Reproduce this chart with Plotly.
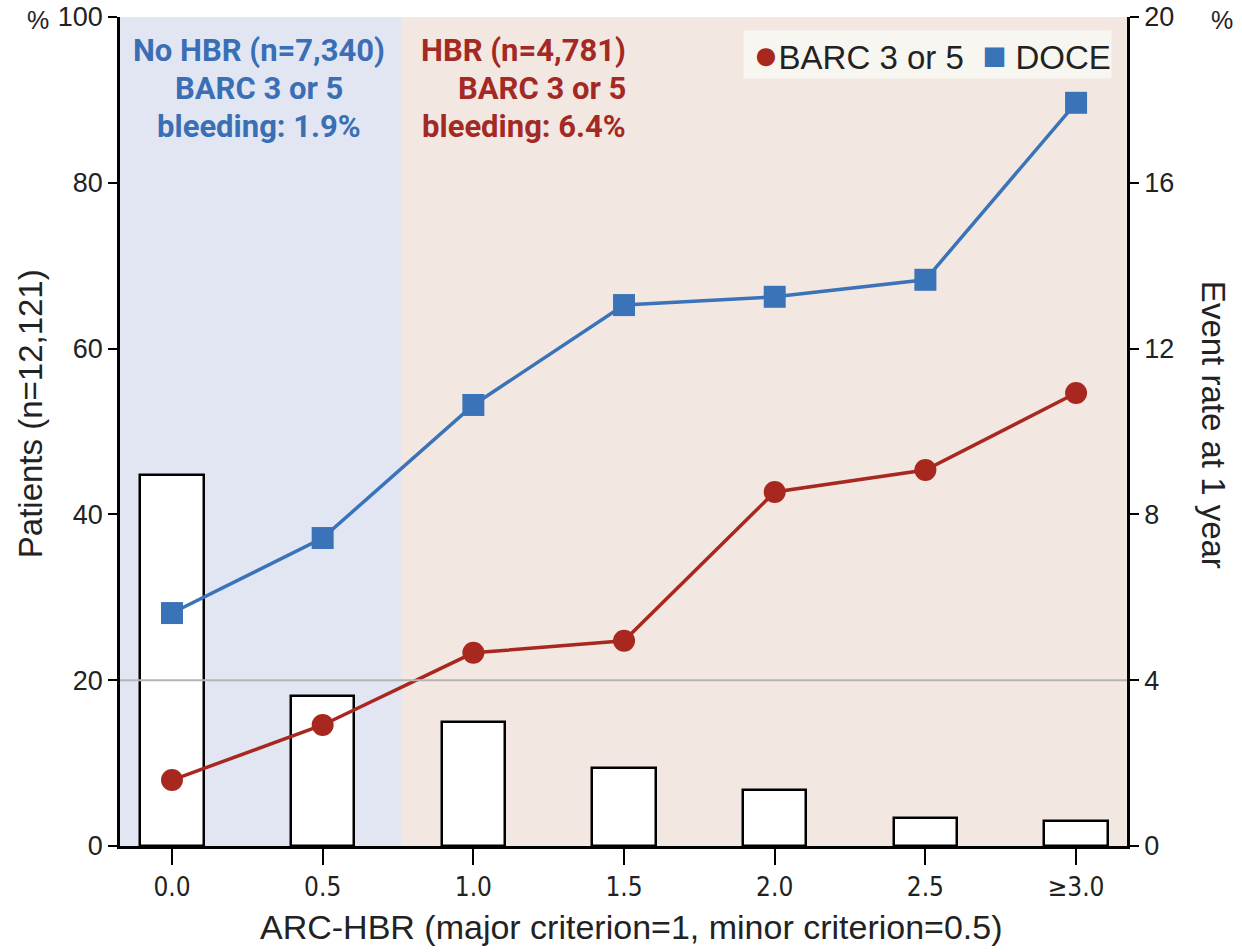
import plotly.graph_objects as go

# ---- data ----
categories = ["0.0", "0.5", "1.0", "1.5", "2.0", "2.5", "\u22653.0"]
patients_pct = [44.75, 18.1, 15.0, 9.4, 6.75, 3.4, 3.0]
barc_rate = [1.59, 2.92, 4.66, 4.95, 8.54, 9.07, 10.93]
doce_rate = [5.62, 7.43, 10.64, 13.05, 13.25, 13.66, 17.93]
left_ticks = [0, 20, 40, 60, 80, 100]
right_ticks = [0, 4, 8, 12, 16, 20]
no_hbr_lines = ["No HBR (n=7,340)", "BARC 3 or 5", "bleeding: 1.9%"]
hbr_lines = ["HBR (n=4,781)", "BARC 3 or 5", "bleeding: 6.4%"]
series_names = ["BARC 3 or 5", "DOCE"]

xpos = list(range(len(categories)))

BLUE = "#3B73B9"
RED = "#A8281F"
BLUE_TXT = "#3A6FB5"
RED_TXT = "#A32A24"
SANS = "Liberation Sans, Arial, sans-serif"
NARROW = "Liberation Sans Narrow, Arial Narrow, DejaVu Sans Condensed, sans-serif"
BOLDF = "Roboto, Lato, sans-serif"

fig = go.Figure()

fig.add_trace(go.Bar(
    x=xpos, y=patients_pct, width=0.42,
    marker=dict(color="white", line=dict(color="black", width=2.5)),
    showlegend=False, yaxis="y",
))

fig.add_trace(go.Scatter(
    x=xpos, y=doce_rate, mode="lines+markers", yaxis="y2", name=series_names[1],
    line=dict(color=BLUE, width=3.5),
    marker=dict(symbol="square", size=22, color=BLUE),
    showlegend=False,
))
fig.add_trace(go.Scatter(
    x=xpos, y=barc_rate, mode="lines+markers", yaxis="y2", name=series_names[0],
    line=dict(color=RED, width=3.5),
    marker=dict(symbol="circle", size=22, color=RED),
    showlegend=False,
))

XMIN, XMAX = -0.345, 6.338
SPLIT = 1.52

shapes = [
    dict(type="rect", xref="x", yref="paper", x0=XMIN, x1=SPLIT, y0=0, y1=1,
         fillcolor="#E2E6F3", line=dict(width=0), layer="below"),
    dict(type="rect", xref="x", yref="paper", x0=SPLIT, x1=XMAX, y0=0, y1=1,
         fillcolor="#F3E7E2", line=dict(width=0), layer="below"),
    dict(type="line", xref="paper", yref="y", x0=0, x1=1, y0=20, y1=20,
         line=dict(color="#B4B4B4", width=2), layer="above"),
]

annotations = []
line_y = [0.960, 0.914, 0.8685]
for txt, yy in zip(no_hbr_lines, line_y):
    annotations.append(dict(text=txt, xref="paper", yref="paper", x=0.138, y=yy,
                            xanchor="center", yanchor="middle", showarrow=False,
                            font=dict(family=BOLDF, size=31, color=BLUE_TXT, weight="bold")))
for txt, yy in zip(hbr_lines, line_y):
    annotations.append(dict(text=txt, xref="paper", yref="paper", x=0.5045, y=yy,
                            xanchor="right", yanchor="middle", showarrow=False,
                            font=dict(family=BOLDF, size=31, color=RED_TXT, weight="bold")))
# legend (as a boxed annotation)
legend_txt = ('\u00a0<span style="color:%s;font-size:42px">\u25CF</span>%s  '
              '<span style="color:%s;font-size:40px">\u25A0</span> %s'
              % (RED, series_names[0], BLUE, series_names[1]))
annotations.append(dict(text=legend_txt, xref="paper", yref="paper", x=0.9855, y=0.984,
                        xanchor="right", yanchor="top", showarrow=False,
                        bgcolor="#F8F6F0", borderpad=0,
                        font=dict(family=SANS, size=33, color="#222")))
annotations.append(dict(text="%", xref="paper", yref="paper", x=-0.0814, y=0.996,
                        xanchor="center", yanchor="middle", showarrow=False,
                        font=dict(family=SANS, size=25, color="#222")))
annotations.append(dict(text="%", xref="paper", yref="paper", x=1.094, y=0.996,
                        xanchor="center", yanchor="middle", showarrow=False,
                        font=dict(family=SANS, size=25, color="#222")))
# axis titles
annotations.append(dict(text="Patients (n=12,121)", xref="paper", yref="paper",
                        x=-0.0894, y=0.522, xanchor="center", yanchor="middle",
                        textangle=-90, showarrow=False,
                        font=dict(family=SANS, size=33, color="#222")))
annotations.append(dict(text="Event rate at 1 year", xref="paper", yref="paper",
                        x=1.0854, y=0.508, xanchor="center", yanchor="middle",
                        textangle=90, showarrow=False,
                        font=dict(family=SANS, size=33, color="#222")))
annotations.append(dict(text="ARC-HBR (major criterion=1, minor criterion=0.5)",
                        xref="paper", yref="paper", x=0.508, y=-0.098,
                        xanchor="center", yanchor="middle", showarrow=False,
                        font=dict(family=SANS, size=34, color="#222")))

fig.update_layout(
    width=1242, height=952,
    margin=dict(l=120, r=115, t=17, b=106, autoexpand=False),
    paper_bgcolor="white", plot_bgcolor="white",
    shapes=shapes, annotations=annotations,
    showlegend=False,
    xaxis=dict(range=[XMIN, XMAX], tickvals=xpos, ticktext=categories,
               ticks="outside", ticklen=16, tickwidth=2, tickcolor="black",
               showline=True, linecolor="black", linewidth=2.5,
               showgrid=False, zeroline=False, automargin=False,
               tickfont=dict(family=NARROW, size=26, color="#222")),
    yaxis=dict(range=[0, 100], tickvals=left_ticks,
               ticks="outside", ticklen=9, tickwidth=2, tickcolor="black",
               showline=True, linecolor="black", linewidth=2.5,
               showgrid=False, zeroline=False, automargin=False,
               ticklabeloverflow="allow",
               tickfont=dict(family=SANS, size=27, color="#222")),
    yaxis2=dict(range=[0, 20], tickvals=right_ticks, overlaying="y", side="right",
                ticks="outside", ticklen=9, tickwidth=2, tickcolor="black",
                showline=True, linecolor="black", linewidth=2.5,
                showgrid=False, zeroline=False, automargin=False,
                ticklabeloverflow="allow",
                tickfont=dict(family=SANS, size=27, color="#222")),
    bargap=0,
)

fig.write_html("out.html", config={"displayModeBar": False},
               post_script="document.body.style.margin='0';document.body.style.overflow='hidden';")
